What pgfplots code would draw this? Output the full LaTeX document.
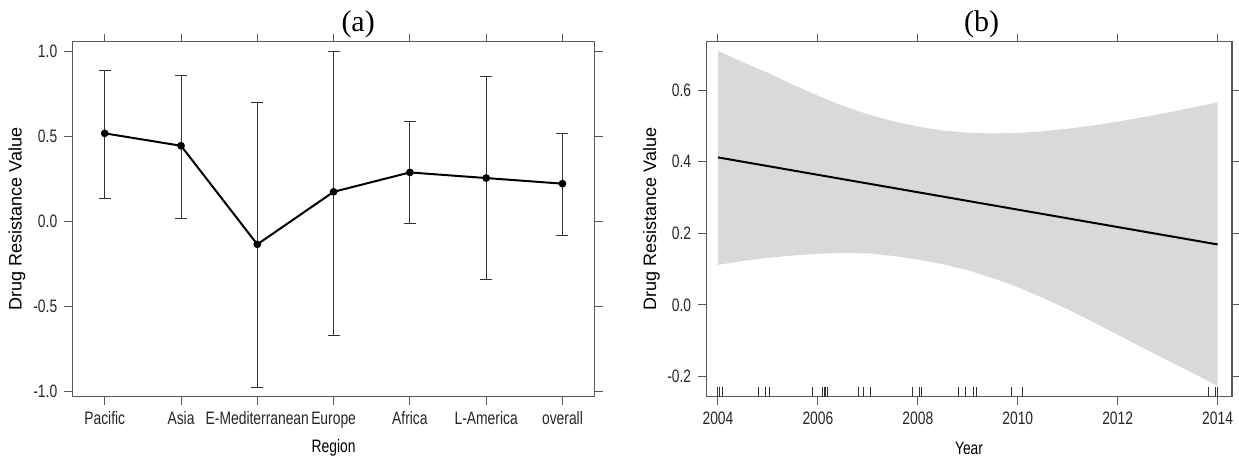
\documentclass[border=0pt]{standalone}
\usepackage{fontspec}
\setmainfont{Liberation Sans}[FakeStretch=0.77]
\newfontfamily\ylfont{Liberation Sans}
\newfontfamily\titlefont{Liberation Serif}
\usepackage{pgfplots}
\pgfplotsset{compat=1.18}
\definecolor{frame}{gray}{0.35}
\definecolor{band}{gray}{0.85}
\pgfplotsset{
  myaxis/.style={
    scale only axis,
    anchor=south west,
    axis line style={frame, line width=0.6pt},
    tick style={frame, line width=0.5pt},
    major tick length=4pt,
    tick align=outside,
    tick pos=both,
    xticklabel pos=lower,
    yticklabel pos=left,
    font=\fontsize{9}{10.5}\selectfont,
    tick label style={font=\fontsize{9}{10.5}\selectfont, text=black!85},
    label style={font=\fontsize{9}{10.5}\selectfont, text=black!85},
    /pgf/number format/assume math mode=true,
  }
}
\pgfplotstableread{
x y ep em
0 0.520 0.372 0.383
1 0.447 0.416 0.429
2 -0.133 0.837 0.843
3 0.176 0.828 0.845
4 0.290 0.300 0.302
5 0.257 0.596 0.594
6 0.224 0.296 0.306
}\regiondata
\pgfplotstableread{
x y
2004.0 0.709
2004.5 0.678
2005.0 0.648
2005.5 0.615
2006.0 0.584
2006.5 0.556
2007.0 0.532
2007.5 0.513
2008.0 0.498
2008.5 0.487
2009.0 0.481
2009.5 0.479
2010.0 0.480
2010.5 0.485
2011.0 0.492
2011.5 0.501
2012.0 0.512
2012.5 0.524
2013.0 0.537
2013.5 0.551
2014.0 0.566
2014.0 -0.226
2013.5 -0.190
2013.0 -0.155
2012.5 -0.119
2012.0 -0.083
2011.5 -0.047
2011.0 -0.012
2010.5 0.020
2010.0 0.050
2009.5 0.075
2009.0 0.097
2008.5 0.114
2008.0 0.127
2007.5 0.137
2007.0 0.144
2006.5 0.145
2006.0 0.143
2005.5 0.138
2005.0 0.132
2004.5 0.123
2004.0 0.112
}\banddata
\pgfplotstableread{
x y e
2004.00 -0.256 0.028
2004.04 -0.256 0.028
2004.10 -0.256 0.028
2004.82 -0.256 0.028
2004.95 -0.256 0.028
2005.03 -0.256 0.028
2005.90 -0.256 0.028
2006.10 -0.256 0.028
2006.13 -0.256 0.028
2006.16 -0.256 0.028
2006.20 -0.256 0.028
2006.82 -0.256 0.028
2006.92 -0.256 0.028
2007.05 -0.256 0.028
2007.89 -0.256 0.028
2008.03 -0.256 0.028
2008.07 -0.256 0.028
2008.81 -0.256 0.028
2008.96 -0.256 0.028
2009.11 -0.256 0.028
2009.18 -0.256 0.028
2009.87 -0.256 0.028
2010.10 -0.256 0.028
2013.82 -0.256 0.028
2013.95 -0.256 0.028
2014.00 -0.256 0.028
}\rugdata
\begin{document}
\begin{tikzpicture}
\path[use as bounding box] (0,0) rectangle (619.5pt,230pt);
% Panel (a)
\begin{axis}[myaxis,
  at={(36.15pt,31.65pt)},
  width=261.3pt, height=177.5pt,
  xmin=-0.425, xmax=6.425,
  ymin=-1.029, ymax=1.059,
  xtick={0,1,2,3,4,5,6},
  xticklabels={Pacific,Asia,E-Mediterranean,Europe,Africa,L-America,overall},
  ytick={-1,-0.5,0,0.5,1},
  yticklabel style={/pgf/number format/.cd, fixed, fixed zerofill, precision=1},
  xlabel={Region},
  ylabel={{\ylfont Drug Resistance Value}},
  every axis y label/.style={at={(axis description cs:-0.1058,0.5)}, rotate=90, anchor=center},
  every axis x label/.style={at={(axis description cs:0.5,-0.145)}, anchor=center},
  title={(a)},
  every axis title/.style={at={(axis description cs:0.547,1.05)}, anchor=center, font=\titlefont\fontsize{15}{17}\selectfont},
]
\addplot[draw=none, forget plot,
  error bars/.cd, y dir=both, y explicit,
  error bar style={draw=black!80, line width=0.5pt},
  error mark options={rotate=90, mark size=3pt, draw=black!80, line width=0.5pt}]
  table[x=x, y=y, y error plus=ep, y error minus=em] {\regiondata};
\addplot[black, line width=1pt, mark=*, mark size=1.4pt] table[x=x, y=y] {\regiondata};
\end{axis}
% Panel (b)
\begin{axis}[myaxis,
  at={(353.1pt,31.65pt)},
  width=262.85pt, height=177.5pt,
  xmin=2003.764, xmax=2014.286,
  ymin=-0.256, ymax=0.735,
  xtick={2004,2006,2008,2010,2012,2014},
  xticklabel style={/pgf/number format/.cd, set thousands separator={}, fixed},
  ytick={-0.2,0,0.2,0.4,0.6},
  yticklabel style={/pgf/number format/.cd, fixed, fixed zerofill, precision=1},
  xlabel={Year},
  ylabel={{\ylfont Drug Resistance Value}},
  every axis y label/.style={at={(axis description cs:-0.1039,0.5)}, rotate=90, anchor=center},
  every axis x label/.style={at={(axis description cs:0.5,-0.145)}, anchor=center},
  title={(b)},
  every axis title/.style={at={(axis description cs:0.524,1.05)}, anchor=center, font=\titlefont\fontsize{15}{17}\selectfont},
]
\addplot[fill=band, draw=none] table[x=x, y=y] {\banddata};
\addplot[black, line width=1pt] coordinates {(2004,0.412) (2014,0.169)};
\addplot[draw=none, forget plot,
  error bars/.cd, y dir=plus, y explicit, error mark=none,
  error bar style={draw=black!80, line width=0.5pt}]
  table[x=x, y=y, y error=e] {\rugdata};
\end{axis}
\end{tikzpicture}
\end{document}
